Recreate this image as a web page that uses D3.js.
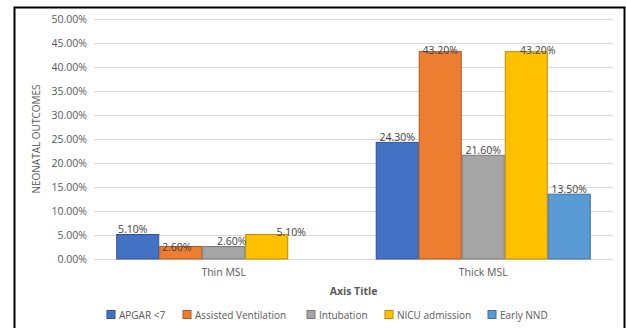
<!DOCTYPE html>
<html>
<head>
<meta charset="utf-8">
<script src="https://cdn.jsdelivr.net/npm/d3@7"></script>
<style>
  html, body { margin: 0; padding: 0; background: #fff; }
  svg { display: block; }
  text { font-family: "Open Sans", "DejaVu Sans", sans-serif; }
</style>
</head>
<body>
<svg id="chart" width="626" height="328"></svg>
<script>
// Neonatal outcomes by meconium-stained liquor (MSL) type, in percent
const categories = ["Thin MSL", "Thick MSL"];
const seriesNames = ["APGAR <7", "Assisted Ventilation", "Intubation", "NICU admission", "Early NND"];
const thinValues = [5.1, 2.6, 2.6, 5.1, null];
const thickValues = [24.3, 43.2, 21.6, 43.2, 13.5];
const yTickValues = [0, 5, 10, 15, 20, 25, 30, 35, 40, 45, 50];

const fills = ["#4472c4", "#ed7d31", "#a5a5a5", "#ffc000", "#5b9bd5"];
const strokes = ["#2f528f", "#ae5a21", "#787878", "#bc8c00", "#41719c"];

// hand-placed nudges for the value labels (dx, dy), one row per category
const labelNudge = [
  [[-5, 0], [-4, 6.3], [8, -0.5], [24.5, 3], [0, 0]],
  [[0, 0], [0, 3.5], [0, 0.5], [11.5, 3.5], [0, 0]]
];

const rows = categories.map((c, i) => ({
  category: c,
  values: (i === 0 ? thinValues : thickValues)
}));

const svg = d3.select("#chart");

// outer frame
svg.append("rect")
  .attr("x", 14.5).attr("y", 7.5)
  .attr("width", 610).attr("height", 340)
  .attr("fill", "#fff").attr("stroke", "#000").attr("stroke-width", 2);

const plot = { left: 94, right: 613, top: 19, bottom: 259 };

const y = d3.scaleLinear().domain([0, 50]).range([plot.bottom, plot.top]);
const x0 = d3.scaleBand().domain(categories).range([plot.left, plot.right]).padding(0);
const x1 = d3.scaleBand().domain(seriesNames).range([0, x0.bandwidth()])
  .paddingInner(0).paddingOuter(0.517);

// gridlines and tick labels
const yAxis = d3.axisLeft(y)
  .tickValues(yTickValues)
  .tickSize(-(plot.right - plot.left))
  .tickPadding(7)
  .tickFormat(d => d3.format(".2f")(d) + "%");

const gAxis = svg.append("g")
  .attr("transform", `translate(${plot.left},0)`)
  .call(yAxis);
gAxis.select(".domain").remove();
gAxis.selectAll(".tick line").attr("stroke", "#d9d9d9").attr("stroke-width", 1);
gAxis.selectAll(".tick text")
  .attr("fill", "#595959")
  .style("font-size", "10.5px");

// bars
const groups = svg.append("g").selectAll("g")
  .data(rows)
  .join("g")
  .attr("transform", d => `translate(${x0(d.category)},0)`);

groups.selectAll("rect")
  .data((d, ci) => d.values.map((v, si) => ({ v, si, ci })).filter(e => e.v !== null))
  .join("rect")
  .attr("x", d => x1(seriesNames[d.si]) + 0.5)
  .attr("y", d => y(d.v))
  .attr("width", x1.bandwidth() - 1)
  .attr("height", d => y(0) - y(d.v))
  .attr("fill", d => fills[d.si])
  .attr("stroke", d => strokes[d.si])
  .attr("stroke-width", 1);

// value labels
groups.selectAll("text.val")
  .data((d, ci) => d.values.map((v, si) => ({ v, si, ci })).filter(e => e.v !== null))
  .join("text")
  .attr("class", "val")
  .attr("x", d => x1(seriesNames[d.si]) + x1.bandwidth() / 2 + labelNudge[d.ci][d.si][0])
  .attr("y", d => y(d.v) - 1.5 + labelNudge[d.ci][d.si][1])
  .attr("text-anchor", "middle")
  .attr("fill", "#404040")
  .style("font-size", "10.5px")
  .text(d => d3.format(".2f")(d.v) + "%");

// category labels
svg.append("g").selectAll("text")
  .data(categories)
  .join("text")
  .attr("x", d => x0(d) + x0.bandwidth() / 2)
  .attr("y", 276)
  .attr("text-anchor", "middle")
  .attr("fill", "#595959")
  .style("font-size", "10.5px")
  .text(d => d);

// axis titles
svg.append("text")
  .attr("x", (plot.left + plot.right) / 2)
  .attr("y", 294.5)
  .attr("text-anchor", "middle")
  .attr("fill", "#595959")
  .style("font-size", "10.5px")
  .style("font-weight", "bold")
  .text("Axis Title");

svg.append("text")
  .attr("transform", `translate(40,${(plot.top + plot.bottom) / 2}) rotate(-90)`)
  .attr("text-anchor", "middle")
  .attr("fill", "#595959")
  .style("font-size", "10px")
  .text("NEONATAL OUTCOMES");

// legend
const legendX = [107, 183, 307, 385, 488];
const legend = svg.append("g").selectAll("g")
  .data(seriesNames)
  .join("g")
  .attr("transform", (d, i) => `translate(${legendX[i]},310.5)`);
legend.append("rect")
  .attr("width", 8).attr("height", 8)
  .attr("fill", (d, i) => fills[i])
  .attr("stroke", (d, i) => strokes[i]);
legend.append("text")
  .attr("x", 12).attr("y", 8)
  .attr("fill", "#595959")
  .style("font-size", "10px")
  .text(d => d);
</script>
</body>
</html>
